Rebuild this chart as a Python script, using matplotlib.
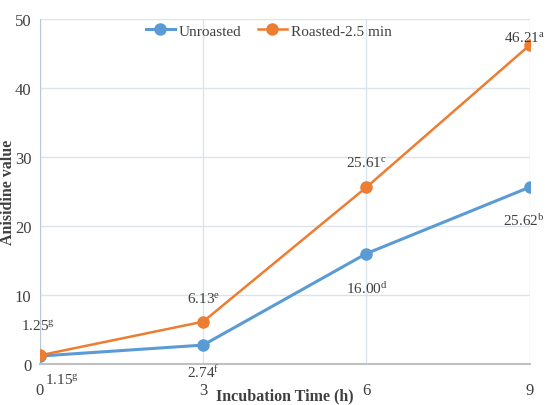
import matplotlib
matplotlib.use("Agg")
import matplotlib.pyplot as plt

plt.rcParams['font.family'] = ['Liberation Serif', 'DejaVu Serif']
plt.rcParams['mathtext.fontset'] = 'custom'
plt.rcParams['mathtext.rm'] = 'Liberation Serif'
plt.rcParams['mathtext.it'] = 'Liberation Serif'

time_h = [0, 3, 6, 9]
unroasted = [1.15, 2.74, 16.00, 25.62]
roasted = [1.25, 6.13, 25.61, 46.21]
unroasted_labels = ["1.15$^{\\mathrm{g}}$", "2.74$^{\\mathrm{f}}$", "16.00$^{\\mathrm{d}}$", "25.62$^{\\mathrm{b}}$"]
roasted_labels = ["1.25$^{\\mathrm{g}}$", "6.13$^{\\mathrm{e}}$", "25.61$^{\\mathrm{c}}$", "46.21$^{\\mathrm{a}}$"]
series_names = ["Unroasted", "Roasted-2.5 min"]

blue = "#5B9BD5"
orange = "#ED7D31"
txt = "#404040"

fig = plt.figure(figsize=(5.45, 4.06), dpi=100)
ax = fig.add_axes([0.073, 0.101, 0.899, 0.850])

ax.plot(time_h, unroasted, color=blue, lw=2.2, marker='o', ms=8, label=series_names[0], zorder=3)
ax.plot(time_h, roasted, color=orange, lw=1.8, marker='o', ms=8, label=series_names[1], zorder=3)

ax.set_xlim(0, 9)
ax.set_ylim(0, 50)
ax.set_xticks(time_h)
ax.set_yticks([0, 10, 20, 30, 40, 50])
ax.grid(True, color="#dde3ea", lw=1.0)
ax.set_axisbelow(True)
for s in ['top', 'right']:
    ax.spines[s].set_visible(False)
ax.spines['left'].set_color("#b8c8dc")
ax.spines['bottom'].set_color("#c0c0c0")
ax.spines['bottom'].set_linewidth(1.5)
ax.tick_params(length=0, labelsize=12, colors=txt)
ax.tick_params(axis='x', pad=13)
ax.tick_params(axis='y', pad=6)

ax.set_ylabel("Anisidine value", fontsize=11.5, fontweight='bold', color=txt)
ax.yaxis.set_label_coords(-0.048, 0.5)
ax.set_xlabel("Incubation Time (h)", fontsize=11.5, fontweight='bold', color=txt)
ax.xaxis.set_label_coords(0.5, -0.068)

fs = 11
# unroasted labels
ax.annotate(unroasted_labels[0], (time_h[0], unroasted[0]), xytext=(4, -12), textcoords='offset points', ha='left', va='top', fontsize=fs, color=txt)
ax.annotate(unroasted_labels[1], (time_h[1], unroasted[1]), xytext=(0, -13), textcoords='offset points', ha='center', va='top', fontsize=fs, color=txt)
ax.annotate(unroasted_labels[2], (time_h[2], unroasted[2]), xytext=(0, -19), textcoords='offset points', ha='center', va='top', fontsize=fs, color=txt)
ax.annotate(unroasted_labels[3], (time_h[3], unroasted[3]), xytext=(-4, -18), textcoords='offset points', ha='center', va='top', fontsize=fs, color=txt, annotation_clip=False)
# roasted labels
ax.annotate(roasted_labels[0], (time_h[0], roasted[0]), xytext=(-1, 16), textcoords='offset points', ha='center', va='bottom', fontsize=fs, color=txt, annotation_clip=False)
ax.annotate(roasted_labels[1], (time_h[1], roasted[1]), xytext=(0, 12), textcoords='offset points', ha='center', va='bottom', fontsize=fs, color=txt)
ax.annotate(roasted_labels[2], (time_h[2], roasted[2]), xytext=(0, 13), textcoords='offset points', ha='center', va='bottom', fontsize=fs, color=txt)
ax.annotate(roasted_labels[3], (time_h[3], roasted[3]), xytext=(-4, 1), textcoords='offset points', ha='center', va='bottom', fontsize=fs, color=txt, annotation_clip=False)

leg = ax.legend(loc='upper center', bbox_to_anchor=(0.467, 1.025), ncol=2, frameon=False,
                fontsize=11, handlelength=1.9, columnspacing=1.1, handletextpad=0.25)
for t in leg.get_texts():
    t.set_color(txt)

fig.savefig("out.png", dpi=100)
